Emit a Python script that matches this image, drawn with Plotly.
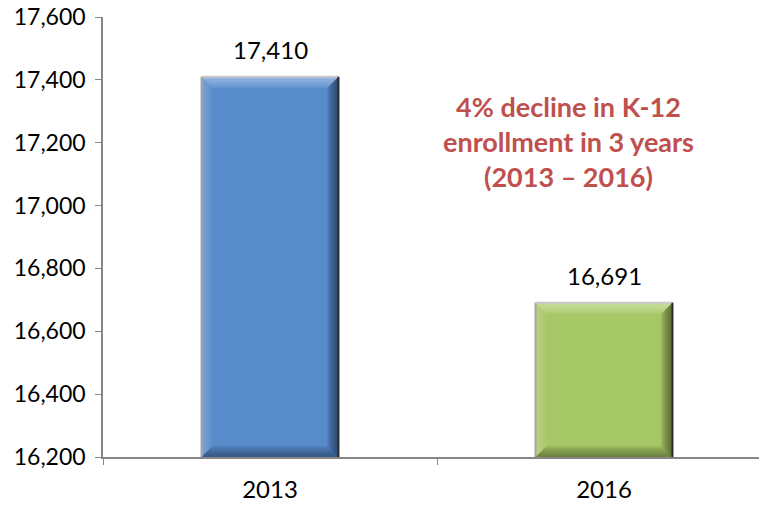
# Libraries
# ===================================================
import plotly.graph_objects as go

# Data
# ===================================================
years = ["2013", "2016"]
enrollment = [17410, 16691]
bar_colors = ["#588BCA", "#A6C766"]
light_colors = ["#A9C3E6", "#D3E4AE"]
dark_colors = ["#1F3452", "#3F4C22"]
y_ticks = [16200, 16400, 16600, 16800, 17000, 17200, 17400, 17600]
note = "4% decline in K-12<br>enrollment in 3 years<br>(2013 – 2016)"

FONT = "Lato"
NUM_SIZE = 24

# Figure
# ===================================================
fig = go.Figure()

fig.add_trace(go.Bar(
    x=years,
    y=enrollment,
    width=0.41,
    marker=dict(color=bar_colors, line=dict(width=0)),
    cliponaxis=True,
    showlegend=False
))

# Bevel look on each bar (built from the data values, soft gradient by stacking)
y_min, y_max = y_ticks[0], y_ticks[-1]
half = 0.205
px_x = 2 / 668          # one pixel in category units
px_y = (y_max - y_min) / 440
steps = 5
for i, v in enumerate(enrollment):
    x0, x1 = i - half, i + half
    for s in range(1, steps + 1):
        bx = px_x * 2.2 * s
        by = px_y * 2.2 * s
        # top light edge
        fig.add_shape(type="path", xref="x", yref="y",
                      path=f"M {x0},{v} L {x1},{v} L {x1-bx},{v-by} L {x0+bx},{v-by} Z",
                      fillcolor=light_colors[i], line_width=0, opacity=0.22, layer="above")
        # right dark edge
        fig.add_shape(type="path", xref="x", yref="y",
                      path=f"M {x1},{v} L {x1},{y_min} L {x1-bx},{y_min+by} L {x1-bx},{v-by} Z",
                      fillcolor=dark_colors[i], line_width=0, opacity=0.2, layer="above")
        # bottom dark edge
        fig.add_shape(type="path", xref="x", yref="y",
                      path=f"M {x0},{y_min} L {x1},{y_min} L {x1-bx},{y_min+by} L {x0+bx},{y_min+by} Z",
                      fillcolor=dark_colors[i], line_width=0, opacity=0.14, layer="above")
        # left light edge
        fig.add_shape(type="path", xref="x", yref="y",
                      path=f"M {x0},{v} L {x0},{y_min} L {x0+bx},{y_min+by} L {x0+bx},{v-by} Z",
                      fillcolor=light_colors[i], line_width=0, opacity=0.1, layer="above")
    # outer edges: grey left/top, dark right
    fig.add_shape(type="line", xref="x", yref="y", x0=x0, x1=x0, y0=y_min, y1=v,
                  line=dict(color="#A5A5A5", width=2), layer="above")
    fig.add_shape(type="line", xref="x", yref="y", x0=x0, x1=x1, y0=v, y1=v,
                  line=dict(color="#C8C8C8", width=2), layer="above")
    fig.add_shape(type="line", xref="x", yref="y", x0=x1, x1=x1, y0=y_min, y1=v,
                  line=dict(color="#2B2B2B", width=2), layer="above")

# Value labels above the bars
for i, v in enumerate(enrollment):
    fig.add_annotation(
        x=i, y=v,
        xref="x", yref="y",
        text=f"{v:,}",
        showarrow=False,
        yanchor="middle",
        yshift=27,
        font=dict(family=FONT, size=NUM_SIZE, color="black")
    )

fig.add_annotation(
    text=note,
    xref="paper", yref="paper",
    x=0.697, y=0.718,
    xanchor="center", yanchor="middle",
    showarrow=False,
    align="center",
    font=dict(family=FONT, size=27, color="#C0504D", weight="bold")
)

fig.update_layout(
    width=767,
    height=506,
    margin=dict(l=95, r=4, t=9, b=57, autoexpand=False),
    plot_bgcolor="white",
    paper_bgcolor="white",
    font=dict(family=FONT, size=NUM_SIZE, color="black"),
    xaxis=dict(
        type="category",
        range=[-0.5, 1.5],
        tickson="boundaries",
        ticks="outside",
        ticklen=6,
        tickcolor="#868686",
        showline=True,
        linecolor="#868686",
        linewidth=1.5,
        showgrid=False,
        automargin=False,
        ticklabelstandoff=10,
        tickfont=dict(family=FONT, size=NUM_SIZE, color="black")
    ),
    yaxis=dict(
        range=[y_min, y_max],
        tickvals=y_ticks,
        ticktext=[f"{t:,}" for t in y_ticks],
        ticks="outside",
        ticklen=6,
        tickcolor="#868686",
        showline=True,
        linecolor="#868686",
        linewidth=1.5,
        showgrid=False,
        zeroline=False,
        automargin=False,
        ticklabelstandoff=5,
        ticklabeloverflow="allow",
        tickfont=dict(family=FONT, size=23, color="black")
    ),
    bargap=0.59
)

fig.write_html("out.html")
